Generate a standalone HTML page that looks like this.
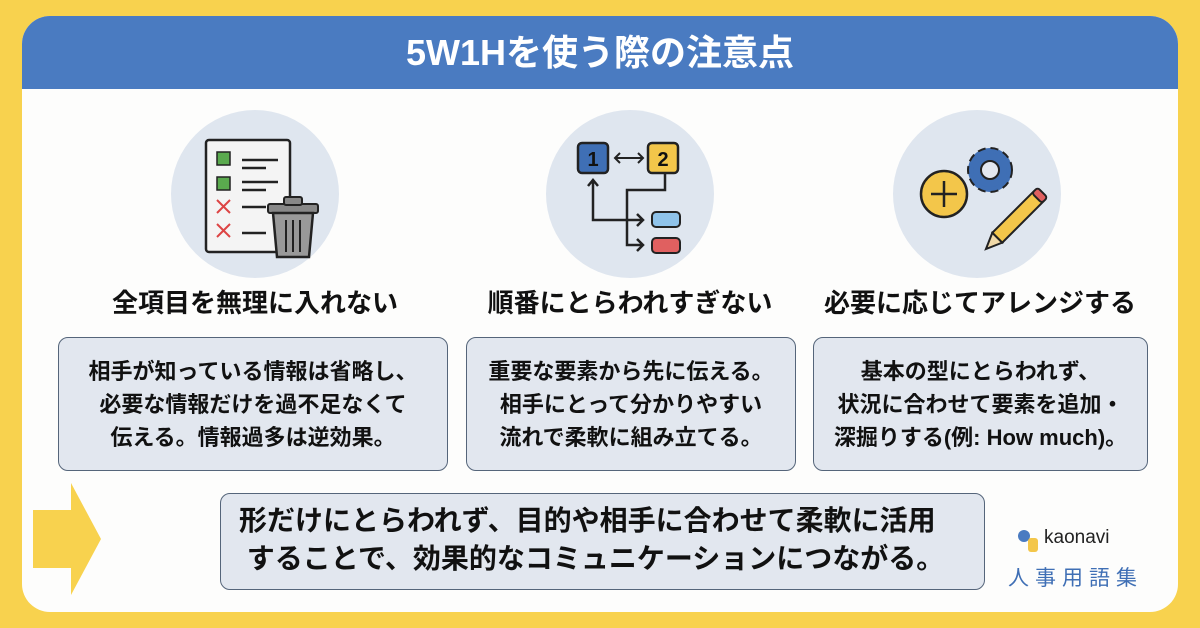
<!DOCTYPE html>
<html><head><meta charset="utf-8"><style>
body{margin:0;width:1200px;height:628px;background:#f8d24e;font-family:"Liberation Sans","Noto Sans CJK JP",sans-serif;position:relative;overflow:hidden}
.card{position:absolute;left:22px;top:16px;width:1156px;height:596px;background:#fdfdfc;border-radius:28px;overflow:hidden}
.hdr{position:absolute;left:0;top:0;width:100%;height:73px;background:#4a7bc1;color:#fff;font-size:36px;font-weight:bold;text-align:center;line-height:73px}
.circ{position:absolute;width:168px;height:168px;border-radius:50%;background:#dfe6ef;top:110px}
.h{position:absolute;top:283px;font-size:26px;font-weight:bold;color:#111;text-align:center;width:420px}
.box{position:absolute;top:337px;height:134px;background:#e2e7ef;border:1.5px solid #55657a;border-radius:10px;box-sizing:border-box;display:flex;align-items:center;justify-content:center;text-align:center;font-size:22px;font-weight:bold;line-height:33px;color:#111}
.big{position:absolute;left:220px;top:493px;width:765px;height:97px;background:#e2e7ef;border:1.5px solid #55657a;border-radius:10px;box-sizing:border-box;font-size:28px;font-weight:bold;line-height:38px;color:#111;padding:8px 0 0 18px;white-space:nowrap}
</style></head><body>
<div class="card"><div class="hdr">5W1Hを使う際の注意点</div></div>
<div class="circ" style="left:171px"></div>
<div class="circ" style="left:546px"></div>
<div class="circ" style="left:893px"></div>
<svg width="1200" height="628" style="position:absolute;left:0;top:0">
<rect x="206" y="140" width="84" height="112" fill="#f4f4f4" stroke="#222" stroke-width="2.5" rx="3"/>
<rect x="217" y="152" width="13" height="13" fill="#5aaa4e" stroke="#222" stroke-width="1.5"/>
<rect x="217" y="177" width="13" height="13" fill="#5aaa4e" stroke="#222" stroke-width="1.5"/>
<path d="M217 200l13 13M230 200l-13 13M217 224l13 13M230 224l-13 13" stroke="#d44" stroke-width="2"/>
<path d="M242 160h36M242 168h24M242 182h36M242 190h24M242 207h24M242 233h24" stroke="#222" stroke-width="2.5"/>
<rect x="268" y="204" width="50" height="9" fill="#888" stroke="#222" stroke-width="2" rx="2"/>
<rect x="284" y="197" width="18" height="8" fill="#888" stroke="#222" stroke-width="2" rx="2"/>
<path d="M273 213h40l-4 44h-32z" fill="#999" stroke="#222" stroke-width="2.5"/>
<path d="M286 220v32M293 220v32M300 220v32" stroke="#222" stroke-width="2"/>
<rect x="578" y="143" width="30" height="30" rx="4" fill="#3f6fb5" stroke="#222" stroke-width="2.5"/>
<text x="593" y="166" font-size="20" font-weight="bold" text-anchor="middle" fill="#111">1</text>
<rect x="648" y="143" width="30" height="30" rx="4" fill="#f3c64a" stroke="#222" stroke-width="2.5"/>
<text x="663" y="166" font-size="20" font-weight="bold" text-anchor="middle" fill="#111">2</text>
<path d="M616 158h26M620 153l-5 5 5 5M638 153l5 5-5 5" stroke="#222" stroke-width="2" fill="none"/>
<path d="M593 180v40h50M588 186l5-6 5 6M637 214l6 6-6 6" stroke="#222" stroke-width="2.5" fill="none"/>
<path d="M665 173v17h-38v55h16M637 239l6 6-6 6" stroke="#222" stroke-width="2.5" fill="none"/>
<rect x="652" y="212" width="28" height="15" rx="4" fill="#8fc3ea" stroke="#222" stroke-width="2"/>
<rect x="652" y="238" width="28" height="15" rx="4" fill="#e06060" stroke="#222" stroke-width="2"/>
<circle cx="944" cy="194" r="23" fill="#f3c64a" stroke="#222" stroke-width="2.5"/>
<path d="M944 181v26M931 194h26" stroke="#222" stroke-width="2.5"/>
<g transform="translate(990,170)"><circle r="22" fill="#3f6fb5" stroke="#222" stroke-width="2" stroke-dasharray="8 5"/><circle r="17" fill="#3f6fb5"/><circle r="9" fill="#e3e8f0" stroke="#222" stroke-width="2"/></g>
<g transform="translate(1010,225) rotate(45)"><rect x="-7" y="-40" width="14" height="58" fill="#f3c64a" stroke="#222" stroke-width="2"/><rect x="-7" y="-46" width="14" height="8" rx="3" fill="#e06060" stroke="#222" stroke-width="2"/><path d="M-7 18l7 16 7-16z" fill="#f0d9a8" stroke="#222" stroke-width="2"/></g>
<path d="M33 510h38v-27l30 56-30 56v-27h-38z" fill="#f8d24e"/>
</svg>
<div class="h" style="left:45px">全項目を無理に入れない</div>
<div class="h" style="left:420px">順番にとらわれすぎない</div>
<div class="h" style="left:770px">必要に応じてアレンジする</div>
<div class="box" style="left:58px;width:390px">相手が知っている情報は省略し、<br>必要な情報だけを過不足なくて<br>伝える。情報過多は逆効果。</div>
<div class="box" style="left:466px;width:330px">重要な要素から先に伝える。<br>相手にとって分かりやすい<br>流れで柔軟に組み立てる。</div>
<div class="box" style="left:813px;width:335px">基本の型にとらわれず、<br>状況に合わせて要素を追加・<br>深掘りする(例: How much)。</div>
<div class="big">形だけにとらわれず、目的や相手に合わせて柔軟に活用<br>&nbsp;することで、効果的なコミュニケーションにつながる。</div>
<div style="position:absolute;left:1018px;top:530px;width:12px;height:12px;background:#4a7bc1;border-radius:50%"></div>
<div style="position:absolute;left:1028px;top:538px;width:10px;height:14px;background:#f3c64a;border-radius:3px"></div>
<div style="position:absolute;left:1044px;top:527px;font-size:19px;color:#222">kaonavi</div>
<div style="position:absolute;left:1008px;top:562px;font-size:21px;color:#3f6fb5;letter-spacing:6px">人事用語集</div>
</body></html>
